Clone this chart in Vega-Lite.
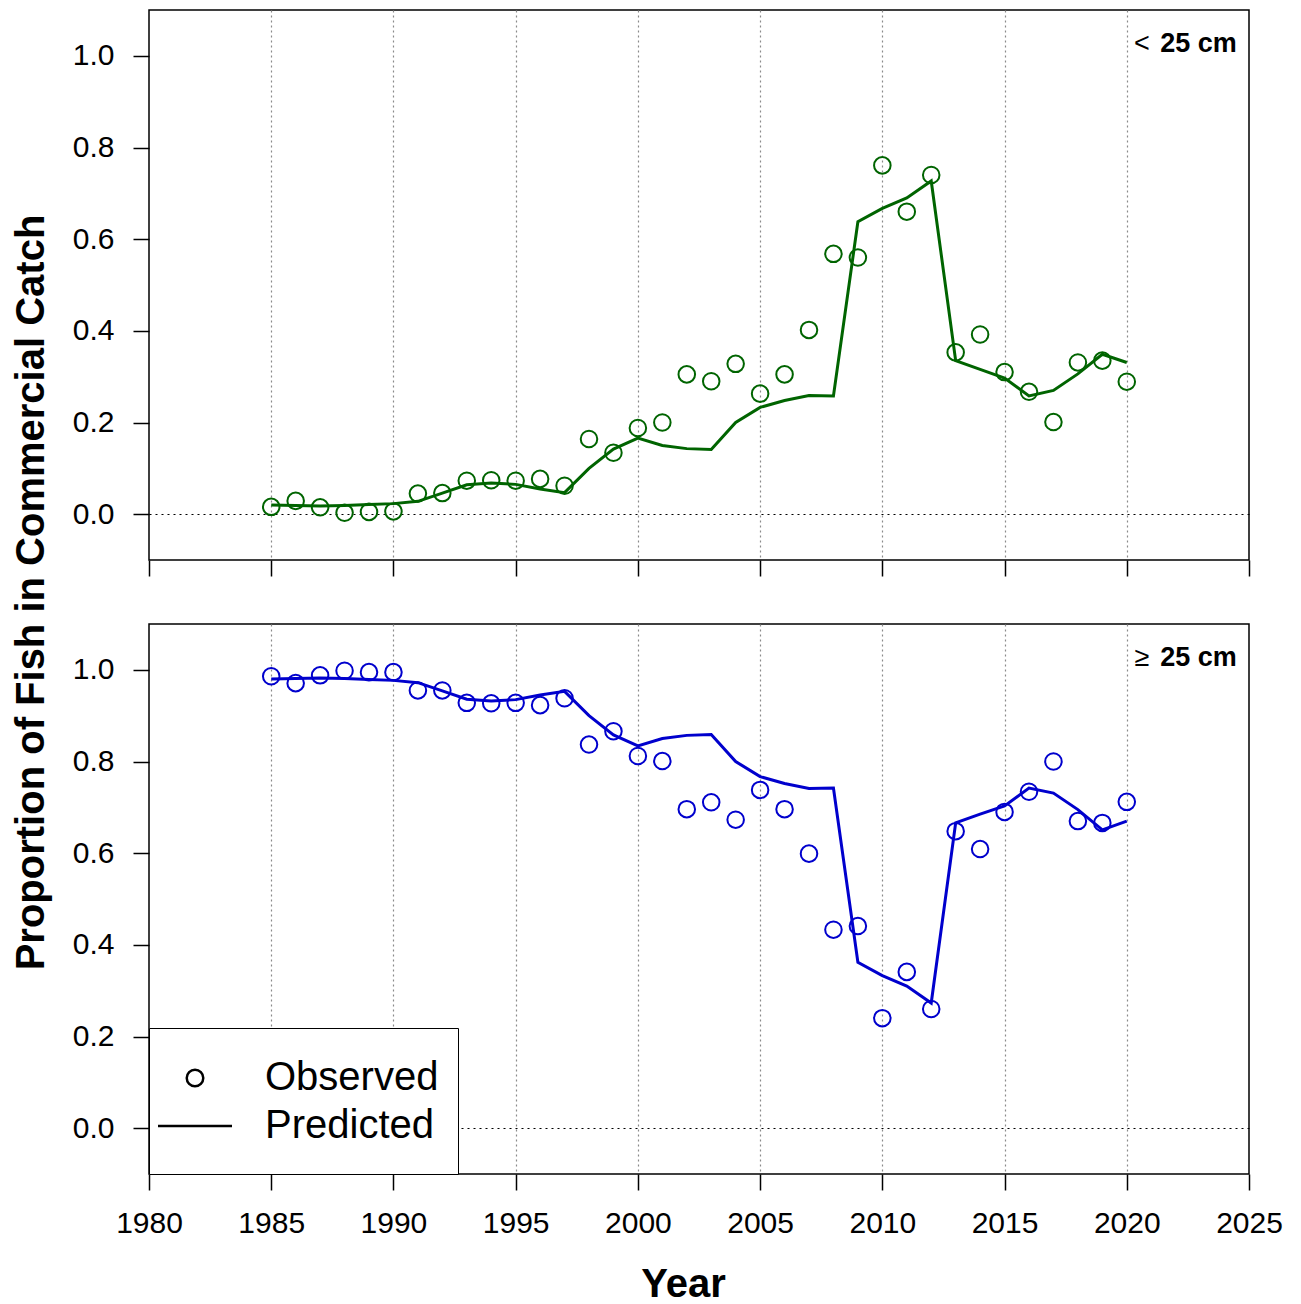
{
  "$schema": "https://vega.github.io/schema/vega-lite/v6.json",
  "background": "white",
  "padding": {"left": 10, "top": 9, "right": 18, "bottom": 4},
  "bounds": "flush",
  "spacing": 64,
  "config": {
    "font": "Liberation Sans",
    "view": {"stroke": "black", "strokeWidth": 1.5},
    "axis": {
      "domain": false,
      "labelFont": "Liberation Sans",
      "labelFontSize": 30,
      "labelColor": "black",
      "labelFlush": false,
      "labelOverlap": false,
      "tickColor": "black",
      "tickWidth": 1.5,
      "tickSize": 16,
      "labelPadding": 19,
      "titleFont": "Liberation Sans",
      "titleColor": "black",
      "titleFontWeight": "bold",
      "titleFontSize": 40
    }
  },
  "datasets": {
    "under25": [
      {"year": 1985, "observed": 0.016, "predicted": 0.020},
      {"year": 1986, "observed": 0.029, "predicted": 0.019},
      {"year": 1987, "observed": 0.015, "predicted": 0.018},
      {"year": 1988, "observed": 0.003, "predicted": 0.019},
      {"year": 1989, "observed": 0.005, "predicted": 0.021},
      {"year": 1990, "observed": 0.006, "predicted": 0.023},
      {"year": 1991, "observed": 0.045, "predicted": 0.028},
      {"year": 1992, "observed": 0.046, "predicted": 0.046},
      {"year": 1993, "observed": 0.073, "predicted": 0.064},
      {"year": 1994, "observed": 0.074, "predicted": 0.068},
      {"year": 1995, "observed": 0.073, "predicted": 0.065},
      {"year": 1996, "observed": 0.077, "predicted": 0.055},
      {"year": 1997, "observed": 0.062, "predicted": 0.047},
      {"year": 1998, "observed": 0.164, "predicted": 0.100},
      {"year": 1999, "observed": 0.134, "predicted": 0.142},
      {"year": 2000, "observed": 0.188, "predicted": 0.166},
      {"year": 2001, "observed": 0.200, "predicted": 0.150},
      {"year": 2002, "observed": 0.305, "predicted": 0.143},
      {"year": 2003, "observed": 0.290, "predicted": 0.141},
      {"year": 2004, "observed": 0.328, "predicted": 0.200},
      {"year": 2005, "observed": 0.263, "predicted": 0.233},
      {"year": 2006, "observed": 0.305, "predicted": 0.248},
      {"year": 2007, "observed": 0.402, "predicted": 0.259},
      {"year": 2008, "observed": 0.568, "predicted": 0.258},
      {"year": 2009, "observed": 0.560, "predicted": 0.638},
      {"year": 2010, "observed": 0.761, "predicted": 0.667},
      {"year": 2011, "observed": 0.660, "predicted": 0.690},
      {"year": 2012, "observed": 0.740, "predicted": 0.727},
      {"year": 2013, "observed": 0.353, "predicted": 0.335},
      {"year": 2014, "observed": 0.392, "predicted": 0.316},
      {"year": 2015, "observed": 0.310, "predicted": 0.297},
      {"year": 2016, "observed": 0.267, "predicted": 0.258},
      {"year": 2017, "observed": 0.201, "predicted": 0.270},
      {"year": 2018, "observed": 0.331, "predicted": 0.306},
      {"year": 2019, "observed": 0.335, "predicted": 0.349},
      {"year": 2020, "observed": 0.289, "predicted": 0.331}
    ],
    "over25": [
      {"year": 1985, "observed": 0.986, "predicted": 0.980},
      {"year": 1986, "observed": 0.971, "predicted": 0.981},
      {"year": 1987, "observed": 0.988, "predicted": 0.982},
      {"year": 1988, "observed": 0.998, "predicted": 0.981},
      {"year": 1989, "observed": 0.995, "predicted": 0.979},
      {"year": 1990, "observed": 0.995, "predicted": 0.977},
      {"year": 1991, "observed": 0.955, "predicted": 0.972},
      {"year": 1992, "observed": 0.955, "predicted": 0.954},
      {"year": 1993, "observed": 0.928, "predicted": 0.936},
      {"year": 1994, "observed": 0.927, "predicted": 0.932},
      {"year": 1995, "observed": 0.928, "predicted": 0.935},
      {"year": 1996, "observed": 0.923, "predicted": 0.945},
      {"year": 1997, "observed": 0.938, "predicted": 0.953},
      {"year": 1998, "observed": 0.837, "predicted": 0.900},
      {"year": 1999, "observed": 0.866, "predicted": 0.858},
      {"year": 2000, "observed": 0.812, "predicted": 0.834},
      {"year": 2001, "observed": 0.801, "predicted": 0.850},
      {"year": 2002, "observed": 0.696, "predicted": 0.857},
      {"year": 2003, "observed": 0.711, "predicted": 0.859},
      {"year": 2004, "observed": 0.673, "predicted": 0.800},
      {"year": 2005, "observed": 0.738, "predicted": 0.767},
      {"year": 2006, "observed": 0.696, "predicted": 0.752},
      {"year": 2007, "observed": 0.599, "predicted": 0.741},
      {"year": 2008, "observed": 0.433, "predicted": 0.742},
      {"year": 2009, "observed": 0.441, "predicted": 0.362},
      {"year": 2010, "observed": 0.240, "predicted": 0.333},
      {"year": 2011, "observed": 0.341, "predicted": 0.310},
      {"year": 2012, "observed": 0.260, "predicted": 0.273},
      {"year": 2013, "observed": 0.648, "predicted": 0.666},
      {"year": 2014, "observed": 0.609, "predicted": 0.685},
      {"year": 2015, "observed": 0.690, "predicted": 0.703},
      {"year": 2016, "observed": 0.734, "predicted": 0.742},
      {"year": 2017, "observed": 0.800, "predicted": 0.731},
      {"year": 2018, "observed": 0.670, "predicted": 0.695},
      {"year": 2019, "observed": 0.666, "predicted": 0.651},
      {"year": 2020, "observed": 0.712, "predicted": 0.670}
    ]
  },
  "vconcat": [
    {
      "width": 1100,
      "height": 550,
      "layer": [
        {
          "data": {"name": "under25"},
          "mark": {"type": "line", "color": "#006400", "strokeWidth": 3},
          "encoding": {
            "x": {
              "field": "year",
              "type": "quantitative",
              "scale": {"domain": [1980, 2025], "nice": false, "zero": false},
              "axis": {
                "values": [1980, 1985, 1990, 1995, 2000, 2005, 2010, 2015, 2020, 2025],
                "labels": false,
                "title": null,
                "grid": true,
                "gridColor": "#8a8a8a",
                "gridDash": [2, 3],
                "gridWidth": 1.2,
                "gridOpacity": {"condition": {"test": "datum.value > 1980 && datum.value < 2025", "value": 1}, "value": 0}
              }
            },
            "y": {
              "field": "predicted",
              "type": "quantitative",
              "scale": {"domain": [-0.1, 1.1], "nice": false, "zero": false},
              "axis": {
                "values": [0, 0.2, 0.4, 0.6, 0.8, 1],
                "format": ".1f",
                "grid": true,
                "gridColor": "black",
                "gridDash": [2, 4],
                "gridWidth": 1.2,
                "gridOpacity": {"condition": {"test": "datum.value === 0", "value": 1}, "value": 0},
                "title": "Proportion of Fish in Commercial Catch",
                "titleAngle": 270,
                "titleAlign": "center",
                "titleBaseline": "alphabetic",
                "titleX": -106,
                "titleY": 582
              }
            }
          }
        },
        {
          "data": {"name": "under25"},
          "mark": {
            "type": "point",
            "shape": "M0.447,0A0.447,0.447 0 1,1 -0.447,0A0.447,0.447 0 1,1 0.447,0Z",
            "filled": false,
            "color": "#006400",
            "size": 1369,
            "strokeWidth": 2,
            "opacity": 1
          },
          "encoding": {
            "x": {"field": "year", "type": "quantitative"},
            "y": {"field": "observed", "type": "quantitative"}
          }
        },
        {
          "data": {"values": [{"label": "<"}]},
          "mark": {"type": "text", "fontSize": 27, "align": "center", "baseline": "alphabetic", "color": "black"},
          "encoding": {
            "text": {"field": "label", "type": "nominal"},
            "x": {"datum": 2020.62, "type": "quantitative"},
            "y": {"datum": 1.008, "type": "quantitative"}
          }
        },
        {
          "data": {"values": [{"label": "25 cm"}]},
          "mark": {"type": "text", "fontSize": 27, "fontWeight": "bold", "align": "right", "baseline": "alphabetic", "color": "black"},
          "encoding": {
            "text": {"field": "label", "type": "nominal"},
            "x": {"datum": 2024.5, "type": "quantitative"},
            "y": {"datum": 1.008, "type": "quantitative"}
          }
        }
      ]
    },
    {
      "width": 1100,
      "height": 550,
      "resolve": {"scale": {"shape": "independent"}, "legend": {"shape": "independent"}},
      "layer": [
        {
          "data": {"name": "over25"},
          "mark": {"type": "line", "color": "#0000CD", "strokeWidth": 3},
          "encoding": {
            "x": {
              "field": "year",
              "type": "quantitative",
              "scale": {"domain": [1980, 2025], "nice": false, "zero": false},
              "axis": {
                "values": [1980, 1985, 1990, 1995, 2000, 2005, 2010, 2015, 2020, 2025],
                "format": "d",
                "labelPadding": 18,
                "title": "Year",
                "titlePadding": 26,
                "titleX": 534,
                "grid": true,
                "gridColor": "#8a8a8a",
                "gridDash": [2, 3],
                "gridWidth": 1.2,
                "gridOpacity": {"condition": {"test": "datum.value > 1980 && datum.value < 2025", "value": 1}, "value": 0}
              }
            },
            "y": {
              "field": "predicted",
              "type": "quantitative",
              "scale": {"domain": [-0.1, 1.1], "nice": false, "zero": false},
              "axis": {
                "values": [0, 0.2, 0.4, 0.6, 0.8, 1],
                "format": ".1f",
                "grid": true,
                "gridColor": "black",
                "gridDash": [2, 4],
                "gridWidth": 1.2,
                "gridOpacity": {"condition": {"test": "datum.value === 0", "value": 1}, "value": 0},
                "title": null
              }
            }
          }
        },
        {
          "data": {"name": "over25"},
          "mark": {"type": "point", "filled": false, "color": "#0000CD", "size": 1369, "strokeWidth": 2, "opacity": 1},
          "encoding": {
            "x": {"field": "year", "type": "quantitative"},
            "y": {"field": "observed", "type": "quantitative"},
            "shape": {
              "datum": "Observed",
              "type": "nominal",
              "scale": {
                "domain": ["Observed", "Predicted"],
                "range": [
                  "M13.46,0M0.447,0A0.447,0.447 0 1,1 -0.447,0A0.447,0.447 0 1,1 0.447,0Z",
                  "M0,1.838M-2,0L2,0"
                ]
              },
              "legend": {
                "title": " ",
                "titleFontSize": 12,
                "titlePadding": 10,
                "orient": "bottom-left",
                "offset": 0,
                "fillColor": "white",
                "strokeColor": "black",
                "padding": 8,
                "rowPadding": 8,
                "labelFont": "Liberation Sans",
                "labelFontSize": 40,
                "labelColor": "black",
                "labelOffset": 50,
                "labelLimit": 0,
                "symbolSize": 1369,
                "symbolOffset": 18,
                "symbolStrokeWidth": 2.5,
                "symbolStrokeColor": "black",
                "symbolFillColor": "transparent",
                "symbolOpacity": 1,
                "encode": {"legend": {"strokeWidth": {"value": 1.5}}}
              }
            }
          }
        },
        {
          "data": {"values": [{"label": "≥"}]},
          "mark": {"type": "text", "fontSize": 27, "align": "center", "baseline": "alphabetic", "color": "black"},
          "encoding": {
            "text": {"field": "label", "type": "nominal"},
            "x": {"datum": 2020.62, "type": "quantitative"},
            "y": {"datum": 1.008, "type": "quantitative"}
          }
        },
        {
          "data": {"values": [{"label": "25 cm"}]},
          "mark": {"type": "text", "fontSize": 27, "fontWeight": "bold", "align": "right", "baseline": "alphabetic", "color": "black"},
          "encoding": {
            "text": {"field": "label", "type": "nominal"},
            "x": {"datum": 2024.5, "type": "quantitative"},
            "y": {"datum": 1.008, "type": "quantitative"}
          }
        }
      ]
    }
  ]
}
